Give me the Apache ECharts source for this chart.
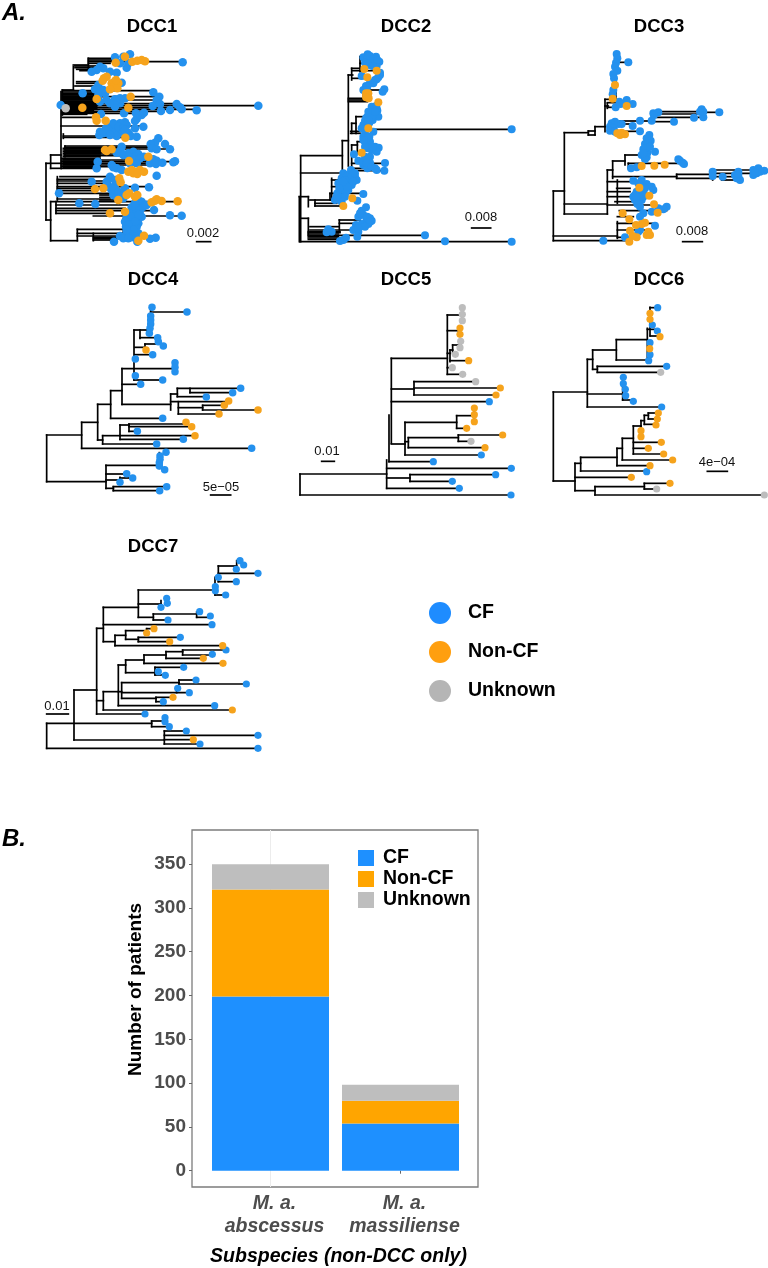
<!DOCTYPE html>
<html>
<head>
<meta charset="utf-8">
<title>DCC trees</title>
<script src="https://cdn.jsdelivr.net/npm/echarts@6/dist/echarts.min.js"></script>
<style>
  html, body { margin: 0; padding: 0; background: #fff; }
  #main { width: 768px; height: 1268px; }
</style>
</head>
<body>
<div id="main"></div>
<script>
// tree values are read off the picture, x = distance from root, y = row of the tip (both in panel units)
// branches: [row, fromDepth, toDepth], stems: [depth, fromRow, toRow], tips: [depth, row]

// DCC1
const dcc1Branches = [[490,138,183],[660,138,152],[465,152,183],[505,152,183],[270,187,220],[195,220,265],[175,265,340],[180,265,335],[185,265,548],[190,265,330],[198,225,300],[203,225,300],[208,230,300],[212,240,280],[245,230,300],[250,230,290],[258,225,280],[272,190,460],[280,187,300],[285,187,300],[290,187,480],[295,187,300],[300,187,470],[305,187,300],[311,187,530],[317,187,775],[323,187,545],[328,187,590],[334,187,480],[340,187,430],[352,187,290],[378,183,430],[408,190,400],[412,190,370],[438,195,450],[442,195,470],[447,200,510],[452,198,360],[458,195,350],[462,195,340],[467,195,400],[475,185,300],[480,185,445],[485,185,525],[490,185,485],[495,185,470],[500,185,330],[505,185,290],[530,180,340],[538,172,275],[543,172,320],[550,172,330],[560,172,445],[565,172,310],[572,172,285],[580,172,380],[597,172,330],[605,152,540],[615,168,460],[625,168,375],[632,168,460],[640,168,330],[648,280,545],[688,232,370],[700,232,370],[708,232,470],[722,152,232],[712,280,400],[716,280,375],[720,280,340],[585,300,345],[592,300,350],[600,300,345],[276,187,290],[283,187,300],[288,187,280],[293,187,280],[298,187,280],[303,187,280],[308,187,290],[314,187,290],[320,187,290],[326,187,290],[331,187,280],[337,187,290],[343,187,260],[445,190,300],[450,190,300],[455,190,300],[460,190,300],[465,190,300],[470,190,300],[478,190,300],[483,190,300],[488,190,300],[493,190,300],[498,190,300],[503,190,300]]
const dcc1Stems = [[138,490,660],[152,465,505],[183,275,505],[187,270,345],[220,200,270],[265,175,210],[190,402,415],[195,438,470],[172,530,600],[152,605,722],[168,605,640],[232,688,722],[370,655,705],[280,700,722]]
const dcc1CF = [[548,187],[775,317],[390,163],[370,170],[345,172],[360,190],[385,190],[300,200],[290,210],[330,215],[350,218],[275,215],[380,203],[310,205],[365,248],[295,255],[285,268],[300,275],[248,280],[315,280],[460,277],[478,290],[470,300],[345,298],[375,295],[320,300],[300,305],[360,310],[345,320],[182,315],[303,342],[372,340],[408,340],[425,345],[432,338],[458,318],[480,312],[530,312],[540,322],[545,328],[590,331],[510,330],[483,333],[410,357],[405,363],[375,367],[360,370],[345,375],[330,380],[318,385],[380,375],[430,380],[405,385],[360,385],[345,390],[300,395],[320,395],[340,398],[365,398],[385,398],[298,405],[350,408],[392,408],[410,410],[475,415],[465,428],[452,432],[495,432],[510,448],[455,445],[365,440],[470,448],[362,450],[400,455],[385,460],[415,462],[405,470],[432,470],[370,465],[350,458],[293,485],[387,470],[410,480],[460,478],[470,482],[450,490],[468,492],[487,488],[520,487],[525,484],[290,505],[335,495],[350,505],[365,510],[340,502],[470,527],[330,535],[320,545],[325,560],[345,555],[275,545],[405,563],[447,562],[375,565],[335,570],[177,580],[340,585],[350,590],[238,610],[286,612],[425,605],[410,620],[395,622],[430,620],[440,615],[462,630],[400,635],[420,632],[510,646],[545,647],[385,660],[405,655],[425,650],[395,670],[415,670],[378,680],[395,685],[410,680],[385,695],[400,700],[378,705],[360,708],[395,712],[450,716],[467,713],[342,725],[370,715],[415,700],[412,725],[390,640],[410,640],[380,650],[395,650],[415,645],[375,665],[405,665],[385,675],[400,690],[390,705],[380,690],[405,710],[385,715],[310,270],[295,285],[330,310],[350,300],[360,295],[340,370],[355,380],[370,385],[325,390],[310,400],[330,405],[375,390],[400,480],[420,475],[390,490],[410,490],[330,530],[345,540],[320,555],[340,565],[355,575],[365,580],[370,595],[415,600],[405,610]]
const dcc1NonCF = [[375,170],[347,188],[397,185],[412,182],[425,180],[435,184],[312,235],[320,230],[308,242],[345,243],[355,250],[335,250],[340,262],[352,265],[330,268],[348,240],[290,297],[392,290],[247,323],[385,323],[288,352],[290,362],[317,362],[376,413],[315,450],[320,453],[335,448],[445,470],[387,483],[385,515],[395,510],[405,515],[420,510],[432,515],[400,520],[412,522],[358,535],[362,547],[310,565],[285,567],[380,585],[388,580],[405,590],[412,585],[355,600],[465,602],[455,607],[470,598],[485,603],[533,604],[330,640],[375,635],[432,707],[415,722]]
const dcc1Unknown = [[197,325]]
const dcc1Scale = [[725,590,632]]

// DCC2
const dcc2Branches = [[467,62,187],[519,62,210],[422,187,205],[225,205,218],[205,215,240],[172,240,262],[190,240,285],[212,218,290],[235,218,250],[295,205,262],[300,205,262],[305,205,262],[270,250,313],[370,215,228],[350,228,262],[388,240,695],[400,212,240],[394,212,240],[435,215,232],[425,232,262],[458,232,245],[490,215,315],[478,230,260],[505,215,290],[512,215,313],[590,58,85],[600,90,160],[610,105,170],[618,105,190],[540,155,190],[560,155,180],[580,150,250],[655,62,85],[680,90,175],[660,178,240],[670,178,240],[690,90,230],[695,85,180],[698,85,180],[702,85,175],[710,85,175],[714,85,180],[718,85,180],[706,85,435],[725,60,695]]
const dcc2Stems = [[62,467,725],[58,590,725],[187,422,519],[205,225,498],[215,205,240],[240,170,215],[250,260,300],[215,370,400],[228,350,400],[215,435,512],[232,425,460],[85,590,620],[105,600,618],[155,535,600],[150,580,600],[85,655,706],[178,660,690]]
const dcc2CF = [[263,163],[250,172],[288,170],[262,178],[275,182],[298,185],[255,188],[285,190],[268,195],[290,198],[300,218],[295,232],[245,228],[285,240],[270,248],[258,258],[250,270],[313,268],[308,275],[288,318],[280,328],[292,332],[270,340],[285,345],[262,350],[295,350],[255,362],[278,360],[268,368],[280,395],[255,395],[250,410],[268,410],[255,425],[270,425],[262,435],[285,440],[296,443],[275,450],[290,455],[222,463],[270,470],[235,482],[255,480],[270,488],[250,495],[265,500],[315,489],[290,510],[313,512],[262,505],[213,510],[190,520],[205,525],[225,530],[185,535],[210,540],[230,540],[175,550],[195,552],[215,555],[185,565],[205,570],[172,580],[195,580],[250,582],[180,592],[165,600],[232,602],[258,622],[245,632],[250,645],[235,650],[270,655],[258,665],[275,662],[228,675],[265,672],[240,680],[220,690],[235,695],[145,688],[155,695],[140,697],[232,710],[198,713],[190,720],[180,723],[435,706],[495,724],[695,388],[695,725],[275,320],[290,325],[265,335],[275,350],[285,335],[258,355],[265,360],[250,375],[245,385],[200,530],[215,530],[195,540],[220,545],[200,560],[225,520],[190,545],[178,565],[195,590],[185,605],[170,590],[240,640],[262,650],[270,665],[245,672],[255,680],[235,685],[270,168],[280,178],[292,180],[262,192],[278,198],[262,415],[262,445],[278,440],[255,440],[250,420],[255,470],[262,475],[250,485],[260,490],[275,500],[285,505],[262,260],[258,270],[290,238],[280,250],[300,225]]
const dcc2NonCF = [[253,207],[290,212],[262,232],[258,280],[265,280],[258,292],[266,295],[295,307],[265,385],[245,458],[217,595],[190,618]]
const dcc2Unknown = []
const dcc2Scale = [[684,575,632]]

// DCC3
const dcc3Branches = [[573,70,103],[708,70,262],[722,70,300],[398,103,175],[642,103,232],[612,103,232],[393,175,195],[405,175,195],[380,195,225],[298,225,250],[318,225,235],[308,232,290],[322,232,260],[363,270,360],[335,365,515],[342,365,515],[352,365,520],[365,365,430],[337,520,568],[372,240,310],[394,240,330],[510,232,248],[483,248,285],[465,285,340],[490,295,450],[505,295,305],[530,248,440],[523,440,548],[535,440,548],[510,550,685],[520,550,680],[530,550,625],[540,575,625],[545,232,310],[565,260,300],[575,232,300],[590,232,310],[605,255,310],[615,232,372],[632,268,410],[650,262,310],[670,262,375],[690,262,360],[712,262,300],[187,258,295]]
const dcc3Stems = [[70,573,722],[103,398,642],[175,393,405],[195,380,405],[225,298,395],[232,310,325],[232,510,642],[248,483,535],[285,465,495],[295,490,505],[440,523,535],[548,510,540],[262,540,610],[365,335,365],[262,665,715],[258,165,300]]
const dcc3CF = [[260,162],[262,175],[258,188],[295,187],[255,200],[262,212],[250,222],[252,235],[250,270],[248,283],[257,322],[268,305],[290,300],[308,312],[272,312],[370,340],[385,337],[372,345],[365,362],[330,362],[432,365],[492,353],[520,352],[515,328],[520,335],[510,335],[568,337],[245,370],[255,365],[265,372],[240,380],[250,385],[275,372],[308,378],[330,394],[240,392],[255,395],[358,405],[350,415],[362,422],[345,432],[355,440],[340,448],[375,455],[352,458],[335,465],[350,472],[345,478],[445,478],[450,482],[458,488],[462,492],[303,505],[320,502],[548,515],[548,528],[578,530],[625,515],[625,530],[630,540],[620,535],[685,505],[703,512],[680,520],[670,525],[690,515],[670,510],[310,542],[335,540],[350,552],[365,560],[370,570],[320,575],[340,578],[310,590],[328,590],[315,600],[335,600],[322,612],[330,620],[410,620],[400,628],[385,625],[365,635],[340,640],[330,650],[285,712],[330,690],[325,695],[375,677],[220,722],[325,550],[340,560],[345,565],[315,585],[325,605],[320,590],[340,590],[355,430],[345,445],[360,440],[340,460],[615,525],[625,522],[683,512],[675,518]]
const dcc3NonCF = [[255,255],[248,296],[290,318],[262,400],[270,405],[285,403],[275,398],[335,498],[373,497],[404,494],[328,563],[358,587],[372,613],[383,638],[278,640],[298,658],[345,668],[335,672],[318,675],[350,705],[360,705],[355,695],[300,692],[320,712],[308,708],[298,725]]
const dcc3Unknown = []
const dcc3Scale = [[725,458,517]]

// DCC4
const dcc4Branches = [[495,50,155],[635,50,228],[535,155,665],[457,155,203],[403,203,242],[445,242,398],[362,242,276],[296,276,435],[343,276,332],[403,276,422],[180,312,362],[203,330,383],[222,345,400],[232,315,345],[254,315,368],[330,312,398],[126,362,471],[372,422,442],[355,442,632],[368,480,608],[380,442,529],[395,422,596],[413,445,518],[406,518,583],[420,518,684],[432,445,567],[510,203,218],[522,218,380],[497,218,270],[465,270,297],[462,297,468],[470,297,485],[484,297,322],[497,270,495],[508,270,460],[586,228,388],[612,228,290],[630,228,270],[624,270,308],[637,270,270],[655,228,250],[650,250,410],[662,250,389]]
const dcc4Stems = [[50,495,635],[155,457,535],[203,403,510],[242,362,445],[276,296,403],[312,180,330],[330,180,205],[362,112,190],[345,222,240],[422,372,420],[442,355,380],[480,355,368],[445,395,432],[518,406,420],[218,497,522],[270,465,508],[297,462,484],[228,586,655],[388,548,595],[270,622,637],[250,650,662],[435,278,305]]
const dcc4CF = [[366,112],[471,126],[362,138],[362,150],[362,162],[360,175],[358,190],[383,203],[385,215],[400,228],[368,254],[316,267],[435,278],[435,292],[435,305],[316,317],[398,330],[332,343],[632,355],[608,368],[529,381],[398,445],[322,484],[460,508],[380,522],[665,535],[408,547],[390,558],[390,568],[388,578],[388,588],[404,599],[290,611],[308,624],[270,637],[410,650],[389,662]]
const dcc4NonCF = [[348,240],[596,393],[583,406],[684,420],[567,432],[468,457],[485,470],[495,497]]
const dcc4Unknown = []
const dcc4Scale = [[675,542,602]]

// DCC5
const dcc5Branches = [[675,30,663],[612,30,290],[655,290,508],[624,290,360],[614,360,617],[634,360,487],[595,290,664],[575,297,430],[265,304,472],[135,472,517],[182,472,510],[250,472,480],[225,488,512],[240,480,488],[272,480,536],[293,472,487],[313,472,518],[357,304,372],[335,372,557],[354,372,631],[375,372,618],[395,304,598],[522,304,345],[457,345,500],[437,500,553],[475,500,530],[555,345,574],[515,345,355],[503,355,505],[495,505,638],[514,505,543],[533,355,585]]
const dcc5Stems = [[30,612,675],[290,570,655],[297,435,575],[304,265,520],[360,614,634],[472,135,313],[517,113,152],[510,174,193],[480,240,275],[488,225,250],[372,335,375],[345,457,555],[500,437,475],[553,414,455],[355,503,533],[505,495,514]]
const dcc5CF = [[663,675],[508,655],[617,614],[487,634],[664,595],[430,575],[598,395],[574,555]]
const dcc5NonCF = [[510,174],[510,193],[536,272],[631,354],[618,375],[553,414],[553,434],[553,455],[530,475],[638,495],[585,533]]
const dcc5Unknown = [[517,113],[517,133],[517,152],[512,214],[510,233],[496,253],[487,293],[518,313],[557,335],[543,514]]
const dcc5Scale = [[574,95,133]]

// DCC6
const dcc6Branches = [[366,40,142],[633,40,105],[411,142,365],[372,142,248],[390,248,280],[268,142,158],[240,158,229],[270,229,327],[209,229,322],[113,330,353],[178,322,352],[198,331,360],[298,158,172],[289,172,380],[307,172,362],[580,105,122],[562,122,231],[587,231,330],[535,231,247],[570,247,398],[505,247,280],[468,280,303],[452,303,313],[436,313,325],[429,325,355],[447,325,352],[463,313,348],[517,280,364],[535,280,325],[552,280,371],[603,122,320],[622,105,274],[662,105,165],[650,165,313],[640,313,390],[657,313,350],[675,165,673]]
const dcc6Stems = [[40,366,633],[142,268,411],[248,322,390],[158,240,298],[229,209,270],[322,175,270],[330,112,198],[172,289,307],[105,580,662],[122,562,603],[231,535,587],[247,505,570],[280,468,552],[303,452,500],[313,436,463],[325,429,447],[165,650,675],[313,640,657]]
const dcc6CF = [[353,113],[337,165],[352,183],[330,218],[330,254],[326,272],[380,289],[250,322],[250,341],[256,358],[257,377],[280,394],[365,411],[320,605]]
const dcc6NonCF = [[330,130],[330,148],[360,200],[329,236],[355,429],[352,447],[348,465],[303,482],[303,500],[364,517],[325,535],[371,552],[398,570],[330,587],[274,622],[390,640]]
const dcc6Unknown = [[362,307],[350,657],[673,675]]
const dcc6Scale = [[604,502,562]]

// DCC7
const dcc7Branches = [[655,50,684],[580,50,365],[630,132,403],[480,132,200],[552,200,345],[295,200,220],[232,220,325],[180,325,555],[108,565,620],[130,565,684],[155,565,619],[195,555,587],[222,325,393],[262,325,370],[252,370,500],[262,500,541],[270,370,414],[284,220,546],[335,220,255],[316,255,287],[302,287,350],[296,350,372],[328,287,325],[322,325,451],[335,325,419],[347,255,578],[512,200,220],[485,220,265],[405,265,287],[390,287,342],[375,342,408],[365,408,458],[360,458,588],[375,458,547],[385,408,520],[400,342,579],[428,287,375],[412,375,461],[435,375,406],[485,265,275],[458,275,447],[450,447,498],[462,447,649],[488,275,478],[505,275,378],[502,378,429],[515,378,400],[527,265,554],[540,220,607],[573,365,405],[590,365,418],[603,403,469],[616,403,684],[629,403,490],[642,403,510]]
const dcc7Stems = [[50,580,655],[132,480,630],[200,295,552],[220,232,335],[325,180,262],[555,142,195],[565,108,155],[620,92,118],[393,212,232],[370,252,270],[500,246,262],[255,316,347],[287,302,328],[350,296,309],[325,322,335],[220,485,540],[265,405,527],[287,390,428],[342,375,400],[408,365,385],[458,360,375],[375,412,435],[275,458,505],[447,450,462],[440,475,488],[378,502,515],[365,573,590],[403,603,642]]
const dcc7CF = [[630,92],[641,105],[619,118],[684,130],[565,142],[619,155],[556,170],[556,182],[587,195],[410,205],[412,220],[393,232],[509,245],[541,258],[414,270],[546,284],[451,322],[588,360],[547,373],[461,412],[385,425],[406,436],[498,450],[649,462],[443,475],[478,488],[400,515],[554,527],[345,552],[405,563],[405,575],[418,590],[469,603],[684,616],[510,642],[684,655]]
const dcc7NonCF = [[372,296],[350,309],[419,335],[578,347],[520,385],[579,400],[429,502],[607,540],[490,629]]
const dcc7Unknown = []
const dcc7Scale = [[552,50,115]]

// B bar chart
const subspecies = ["M. a.\nabscessus", "M. a.\nmassiliense"]
const cfPatients = [199, 54]
const nonCfPatients = [122, 26]
const unknownPatients = [29, 18]
const patientTicks = [0, 50, 100, 150, 200, 250, 300, 350]

const panels = [
  { title: "DCC1", box: [0, 0, 280, 260], at: [152, 27], branches: dcc1Branches, stems: dcc1Stems, cf: dcc1CF, nonCf: dcc1NonCF, unknown: dcc1Unknown, scale: dcc1Scale, scaleText: "0.002", textAt: [203, 233], size: 8.5 },
  { title: "DCC2", box: [280, 0, 250, 260], at: [406, 27], branches: dcc2Branches, stems: dcc2Stems, cf: dcc2CF, nonCf: dcc2NonCF, unknown: dcc2Unknown, scale: dcc2Scale, scaleText: "0.008", textAt: [481, 217], size: 8 },
  { title: "DCC3", box: [530, 0, 238, 260], at: [659, 27], branches: dcc3Branches, stems: dcc3Stems, cf: dcc3CF, nonCf: dcc3NonCF, unknown: dcc3Unknown, scale: dcc3Scale, scaleText: "0.008", textAt: [692, 231], size: 8 },
  { title: "DCC4", box: [30, 270, 250, 240], at: [153, 280], branches: dcc4Branches, stems: dcc4Stems, cf: dcc4CF, nonCf: dcc4NonCF, unknown: dcc4Unknown, scale: dcc4Scale, scaleText: "5e\u221205", textAt: [221, 487], size: 7.5 },
  { title: "DCC5", box: [290, 270, 240, 240], at: [406, 280], branches: dcc5Branches, stems: dcc5Stems, cf: dcc5CF, nonCf: dcc5NonCF, unknown: dcc5Unknown, scale: dcc5Scale, scaleText: "0.01", textAt: [327, 451], size: 7.2 },
  { title: "DCC6", box: [540, 270, 228, 240], at: [659, 280], branches: dcc6Branches, stems: dcc6Stems, cf: dcc6CF, nonCf: dcc6NonCF, unknown: dcc6Unknown, scale: dcc6Scale, scaleText: "4e\u221204", textAt: [717, 462], size: 7.2 },
  { title: "DCC7", box: [30, 530, 250, 240], at: [153, 547], branches: dcc7Branches, stems: dcc7Stems, cf: dcc7CF, nonCf: dcc7NonCF, unknown: dcc7Unknown, scale: dcc7Scale, scaleText: "0.01", textAt: [57, 706], size: 7.2 }
]

const fontName = "'Liberation Sans', Arial, sans-serif"

function drawSegment(params, api) {
  const a = api.coord([api.value(0), api.value(1)])
  const b = api.coord([api.value(2), api.value(3)])
  return {
    type: "line",
    shape: { x1: a[0], y1: a[1], x2: b[0], y2: b[1] },
    style: { stroke: "#000", lineWidth: 1.7, lineCap: "square" }
  }
}

const grids = []
const xAxes = []
const yAxes = []
const series = []
const titles = []

panels.forEach((p, i) => {
  grids.push({ left: p.box[0], top: p.box[1], width: p.box[2], height: p.box[3], outerBoundsMode: "none" })
  xAxes.push({ type: "value", gridIndex: i, min: 0, max: p.box[2] * 3, show: false })
  yAxes.push({ type: "value", gridIndex: i, min: 0, max: p.box[3] * 3, inverse: true, show: false })
  const segs = p.branches.concat(p.scale).map(b => [b[1], b[0], b[2], b[0]])
    .concat(p.stems.map(s => [s[0], s[1], s[0], s[2]]))
  series.push({
    type: "custom",
    xAxisIndex: i,
    yAxisIndex: i,
    silent: true,
    clip: false,
    renderItem: drawSegment,
    encode: { x: [0, 2], y: [1, 3] },
    data: segs
  })
  const tips = [["CF", p.cf, "#2491ee"], ["Non-CF", p.nonCf, "#f6a31c"], ["Unknown", p.unknown, "#bdbdbd"]]
  tips.forEach(t => {
    series.push({
      name: t[0],
      type: "scatter",
      xAxisIndex: i,
      yAxisIndex: i,
      silent: true,
      clip: false,
      symbolSize: p.size,
      itemStyle: { color: t[2], opacity: 1 },
      data: t[1]
    })
  })
  titles.push({ text: p.title, left: p.at[0], top: p.at[1] - 10, textAlign: "center", textStyle: { fontFamily: fontName, fontSize: 18.5, fontWeight: "bold", color: "#000", lineHeight: 20 }, padding: 0 })
  titles.push({ text: p.scaleText, left: p.textAt[0], top: p.textAt[1] - 7, textAlign: "center", textStyle: { fontFamily: fontName, fontSize: 13, fontWeight: "normal", color: "#111", lineHeight: 14 }, padding: 0 })
})

titles.push({ text: "A.", left: 2, top: 1, textStyle: { fontFamily: fontName, fontSize: 24, fontWeight: "bold", fontStyle: "italic", color: "#000" }, padding: 0 })
titles.push({ text: "B.", left: 2, top: 827, textStyle: { fontFamily: fontName, fontSize: 24, fontWeight: "bold", fontStyle: "italic", color: "#000" }, padding: 0 })

// bar panel: frame grid with its own hidden axes, bars in a narrower grid so the two bands keep their width
const frameGrid = panels.length
grids.push({ left: 192, top: 830, width: 286, height: 357, show: true, borderColor: "#7c7c7c", borderWidth: 1.3, backgroundColor: "#fff", outerBoundsMode: "none" })
xAxes.push({ type: "value", gridIndex: frameGrid, show: false })
yAxes.push({ type: "value", gridIndex: frameGrid, show: false })

const barGrid = frameGrid + 1
grids.push({ left: 205.5, top: 830, width: 260, height: 357, outerBoundsMode: "none" })
xAxes.push({
  type: "category",
  gridIndex: barGrid,
  data: subspecies,
  name: "Subspecies (non-DCC only)",
  nameLocation: "center",
  nameGap: 60,
  nameTextStyle: { fontFamily: fontName, fontSize: 19.5, fontWeight: "bold", fontStyle: "italic", color: "#000", padding: [0, 0, 0, 6] },
  axisLine: { show: false },
  axisTick: { show: true, alignWithLabel: true, length: 3, lineStyle: { color: "#666" } },
  splitLine: { show: false },
  axisLabel: {
    interval: 0,
    fontFamily: fontName,
    fontSize: 19.5,
    fontWeight: "bold",
    fontStyle: "italic",
    color: "#4d4d4d",
    lineHeight: 23,
    margin: 5,
    padding: [0, 0, 0, 8]
  }
})
yAxes.push({
  type: "value",
  gridIndex: barGrid,
  min: -18.6,
  max: 389,
  offset: 13.5,
  name: "Number of patients",
  nameLocation: "center",
  nameGap: 47,
  nameTextStyle: { fontFamily: fontName, fontSize: 19, fontWeight: "bold", color: "#000", padding: [0, 0, 0, 38] },
  axisLine: { show: false },
  axisTick: { show: true, customValues: patientTicks, length: 3, lineStyle: { color: "#666" } },
  splitLine: { show: false },
  axisLabel: { customValues: patientTicks, fontFamily: fontName, fontSize: 19, fontWeight: "bold", color: "#4d4d4d", margin: 6 }
})

const barSeries = [["CF", cfPatients, "#1e90ff"], ["Non-CF", nonCfPatients, "#ffa500"], ["Unknown", unknownPatients, "#bebebe"]]
barSeries.forEach((s, k) => {
  series.push({
    name: s[0],
    type: "bar",
    xAxisIndex: barGrid,
    yAxisIndex: barGrid,
    stack: "patients",
    barWidth: 117,
    silent: true,
    itemStyle: { color: s[2] },
    markLine: k === 0 ? {
      silent: true,
      symbol: "none",
      z: 1,
      label: { show: false },
      lineStyle: { color: "#ececec", width: 1, type: "solid" },
      data: [{ xAxis: 0 }]
    } : undefined,
    z: 3,
    data: s[1]
  })
})

const myChart = echarts.init(document.getElementById("main"))
myChart.setOption({
  animation: false,
  backgroundColor: "#fff",
  title: titles,
  grid: grids,
  xAxis: xAxes,
  yAxis: yAxes,
  legend: [
    {
      left: 358,
      top: 848,
      orient: "vertical",
      selectedMode: false,
      icon: "rect",
      itemWidth: 16,
      itemHeight: 16,
      itemGap: 1,
      padding: 0,
      textStyle: { fontFamily: fontName, fontSize: 19.5, fontWeight: "bold", color: "#000", padding: [0, 0, 0, 4] },
      data: [
        { name: "CF", itemStyle: { color: "#1e90ff" } },
        { name: "Non-CF", itemStyle: { color: "#ffa500" } },
        { name: "Unknown", itemStyle: { color: "#bebebe" } }
      ]
    },
    {
      left: 429,
      top: 602,
      orient: "vertical",
      selectedMode: false,
      icon: "circle",
      itemWidth: 22,
      itemHeight: 22,
      itemGap: 17,
      padding: 0,
      textStyle: { fontFamily: fontName, fontSize: 19.5, fontWeight: "bold", color: "#000", padding: [0, 0, 0, 12] },
      data: [
        { name: "CF", itemStyle: { color: "#1e8cff" } },
        { name: "Non-CF", itemStyle: { color: "#ff9f0f" } },
        { name: "Unknown", itemStyle: { color: "#b5b5b5" } }
      ]
    }
  ],
  series: series
})
</script>
</body>
</html>
